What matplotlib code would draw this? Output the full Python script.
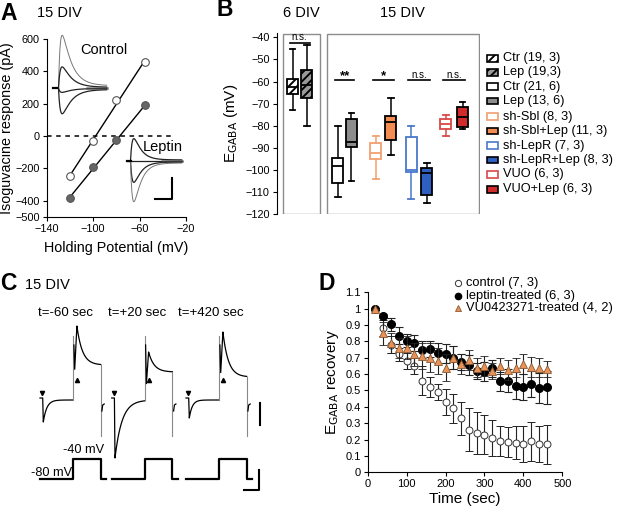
import numpy as np
import matplotlib
matplotlib.use("Agg")
import matplotlib.pyplot as plt
from matplotlib.patches import Rectangle

plt.rcParams['font.family'] = ['Liberation Sans', 'DejaVu Sans']
plt.rcParams['hatch.linewidth'] = 1.4

W, H = 617, 508

# ---------------- data ----------------
# A: I-V relation
hold_mv = [-120, -100, -80, -55]
iv_control = [-250, -30, 220, 460]
iv_leptin = [-385, -195, -25, 190]
# inset trace amplitudes (px above baseline)
amp_control = [52, 21, -4, -25]
amp_leptin = [22, 0, -21, -40]

# B: box stats
box_labels = ['Ctr (19, 3)', 'Lep (19,3)', 'Ctr (21, 6)', 'Lep (13, 6)',
              'sh-Sbl (8, 3)', 'sh-Sbl+Lep (11, 3)', 'sh-LepR (7, 3)',
              'sh-LepR+Lep (8, 3)', 'VUO (6, 3)', 'VUO+Lep (6, 3)']
whislo = [-73, -80, -112, -105, -104, -93, -113, -114.7, -84.5, -81.6]
q1 = [-65.5, -67.5, -106, -89.5, -95, -86.5, -101, -111.3, -81.4, -80.4]
med = [-62.5, -61.5, -98, -87.5, -92.5, -78.5, -100, -101.5, -79.3, -75.9]
q3 = [-59, -55, -94.5, -77, -88, -75.5, -84.9, -99, -76.9, -71.4]
whishi = [-45.5, -43.5, -80, -74, -84.5, -67.5, -80.1, -96.7, -75.1, -69.1]
sig_labels = ['n.s.', '**', '*', 'n.s.', 'n.s.']

# C: example traces (px amplitudes)
c_titles = ['t=-60 sec', 't=+20 sec', 't=+420 sec']
c_dip = [22, 58, 18]
c_peak = [74, 48, 68]
c_plateau = [35, 28, 23]

# D: recovery time course
t_sec = list(range(20, 461, 20))
rec_control = [1.0, 0.88, 0.78, 0.72, 0.68, 0.65, 0.56, 0.52, 0.49, 0.43, 0.39, 0.33,
               0.26, 0.24, 0.23, 0.21, 0.19, 0.185, 0.18, 0.17, 0.19, 0.17, 0.17]
err_control = [0, 0.05, 0.05, 0.04, 0.05, 0.05, 0.09, 0.06, 0.05, 0.08, 0.09, 0.1,
               0.13, 0.13, 0.12, 0.11, 0.09, 0.09, 0.1, 0.11, 0.12, 0.11, 0.12]
rec_leptin = [1.0, 0.955, 0.905, 0.835, 0.805, 0.79, 0.75, 0.755, 0.73, 0.725, 0.70, 0.675,
              0.655, 0.62, 0.615, 0.635, 0.555, 0.56, 0.53, 0.52, 0.54, 0.515, 0.52]
err_leptin = [0, 0.01, 0.04, 0.05, 0.04, 0.05, 0.05, 0.05, 0.06, 0.06, 0.07, 0.05,
              0.06, 0.05, 0.06, 0.05, 0.06, 0.07, 0.08, 0.08, 0.08, 0.09, 0.1]
rec_vu = [1.0, 0.85, 0.79, 0.76, 0.76, 0.72, 0.71, 0.70, 0.68, 0.64, 0.70, 0.66,
          0.685, 0.64, 0.65, 0.62, 0.65, 0.625, 0.64, 0.66, 0.645, 0.64, 0.63]
err_vu = [0, 0.07, 0.06, 0.06, 0.07, 0.07, 0.08, 0.09, 0.08, 0.08, 0.07, 0.06,
          0.06, 0.06, 0.06, 0.05, 0.05, 0.06, 0.06, 0.06, 0.06, 0.06, 0.05]
d_labels = ['control (7, 3)', 'leptin-treated (6, 3)', 'VU0423271-treated (4, 2)']


def rect(x0, y0, x1, y1):
    # pixel box (top-left origin) -> figure fractions
    return [x0 / W, 1 - y1 / H, (x1 - x0) / W, (y1 - y0) / H]


fig = plt.figure(figsize=(W / 100, H / 100), dpi=100)

# ---------------- A ----------------
axA = fig.add_axes(rect(46.7, 39, 186, 216.7))
axA.set_xlim(-140, -20)
axA.set_ylim(-500, 600)
axA.hlines(0, -140, -32, colors='k', linestyles=(0, (3, 3)), lw=1.1)
for yv, fc in [(iv_control, 'white'), (iv_leptin, '#666666')]:
    p = np.polyfit(hold_mv, yv, 1)
    xs = np.array([hold_mv[0], hold_mv[-1]])
    axA.plot(xs, np.polyval(p, xs), color='k', lw=1)
    axA.plot(hold_mv, yv, 'o', ms=5.5, mfc=fc, mec='#555555', mew=0.8, zorder=3)
axA.set_xticks([-140, -100, -60, -20])
axA.set_yticks([600, 400, 200, 0, -200, -400, -500])
axA.tick_params(labelsize=7.8, length=3, width=0.8, pad=2)
for s in ['top', 'right']:
    axA.spines[s].set_visible(False)
axA.set_xlabel('Holding Potential (mV)', fontsize=10.4, labelpad=5)
axA.set_ylabel('Isoguvacine response (pA)', fontsize=10.4, labelpad=1)

# ---------------- B ----------------
axB = fig.add_axes(rect(276.7, 33.3, 480, 214.3))
axB.set_xlim(0, 14.5)
axB.set_ylim(-120, -38.2)
pos = [1.14, 2.14, 4.36, 5.33, 7.07, 8.14, 9.6, 10.7, 12.06, 13.26]
faces = ['white', '#999999', 'white', '#8c8c8c', 'white', '#f28c50',
         'white', '#2f5fc0', 'white', '#d02c2c']
edges = ['k', 'k', 'k', 'k', '#f0a070', 'k', '#4a78cc', 'k', '#d84848', 'k']
hatches = ['////', '////', None, None, None, None, None, None, None, None]
stats = [dict(whislo=a, q1=b, med=c, q3=d, whishi=e)
         for a, b, c, d, e in zip(whislo, q1, med, q3, whishi)]
bp = axB.bxp(stats, positions=pos, widths=0.8, showfliers=False, patch_artist=True,
             manage_ticks=False)
for i in range(len(stats)):
    bp['boxes'][i].set(facecolor=faces[i], edgecolor=edges[i], lw=1.3,
                       hatch=hatches[i])
    bp['medians'][i].set(color=edges[i], lw=1.3)
    for k in (2 * i, 2 * i + 1):
        bp['whiskers'][k].set(color=edges[i], lw=1.1)
        bp['caps'][k].set(color=edges[i], lw=1.3, xdata=[pos[i] - 0.2, pos[i] + 0.2])
axB.add_patch(Rectangle((0.45, -120), 2.64, 81.6, fill=False, ec='#8c8c8c', lw=1))
axB.add_patch(Rectangle((3.57, -120), 10.83, 81.6, fill=False, ec='#8c8c8c', lw=1))
sig_y = [-42.4, -59.4, -59.4, -59.4, -59.4]
for j, lab in enumerate(sig_labels):
    xa, xb = pos[2 * j], pos[2 * j + 1]
    axB.plot([xa - 0.2, xb + 0.2], [sig_y[j], sig_y[j]], color='k', lw=1.2)
    if lab == 'n.s.':
        axB.text((xa + xb) / 2, sig_y[j] + 0.3, lab, ha='center', va='bottom', fontsize=7)
    else:
        axB.text((xa + xb) / 2, sig_y[j] - 0.8, lab, ha='center', va='bottom', fontsize=9.5,
                 fontweight='bold')
axB.set_yticks(range(-120, -39, 10))
axB.set_xticks([])
axB.tick_params(labelsize=7.8, length=3, width=0.8, pad=2)
for s in ['top', 'right', 'bottom']:
    axB.spines[s].set_visible(False)
axB.set_ylabel(r'E$_{\mathrm{GABA}}$ (mV)', fontsize=11, labelpad=4)

# ---------------- D ----------------
mk_ctrl = dict(fmt='o', ms=5, mfc='white', mec='#333333', mew=0.7)
mk_lep = dict(fmt='o', ms=5.5, mfc='k', mec='k')
mk_vu = dict(fmt='^', ms=5.5, mfc='#e8925a', mec='#8a5a30', mew=0.6)
axD = fig.add_axes(rect(367.7, 292.3, 562.3, 472.3))
for vals, errs, mk, z in [(rec_control, err_control, mk_ctrl, 2),
                          (rec_leptin, err_leptin, mk_lep, 3),
                          (rec_vu, err_vu, mk_vu, 4)]:
    axD.errorbar(t_sec, vals, yerr=errs, ecolor='#222222', elinewidth=0.8, capsize=3,
                 capthick=0.8, zorder=z, **mk)
axD.set_xlim(0, 500)
axD.set_ylim(0, 1.1)
axD.set_xticks(range(0, 501, 100))
axD.set_yticks(np.arange(0, 1.11, 0.1))
axD.set_yticklabels(['0', '0.1', '0.2', '0.3', '0.4', '0.5', '0.6', '0.7', '0.8', '0.9',
                     '1', '1.1'])
axD.tick_params(labelsize=8, length=3, width=0.8, pad=2)
for s in ['top', 'right']:
    axD.spines[s].set_visible(False)
axD.set_xlabel('Time (sec)', fontsize=11, labelpad=2)
axD.set_ylabel(r'E$_{\mathrm{GABA}}$ recovery', fontsize=11, labelpad=3)

# ---------------- overlay: labels, traces, legends ----------------
ov = fig.add_axes([0, 0, 1, 1], zorder=10)
ov.set_xlim(0, W)
ov.set_ylim(H, 0)
ov.axis('off')
ov.patch.set_alpha(0)

for txt, x, y in [('A', 0, 13), ('B', 216, 10), ('C', 0, 284), ('D', 318, 284)]:
    ov.text(x, y, txt, fontsize=16.5, fontweight='bold', va='center', ha='left')
for txt, x, y in [('15 DIV', 37, 13), ('6 DIV', 283, 13), ('15 DIV', 380, 13), ('15 DIV', 25, 285)]:
    ov.text(x, y, txt, fontsize=10.5, va='center', ha='left')


def psc(x0, onset, x1, base, amp, tr=1.8, td=9.0):
    x = np.linspace(onset, x1, 150)
    t = x - onset
    k = np.exp(-t / td) - np.exp(-t / tr)
    k = k / k.max()
    y = base - amp * (k + 0.05 * np.clip(t / 10, 0, 1))
    return np.r_[x0, onset, x], np.r_[base, base, y]


for amps, x0, onset, x1, base, td in [(amp_control, 52.7, 58.5, 106.7, 88.3, 9.0),
                                     (amp_leptin, 126.7, 130.5, 181.7, 161, 7.0)]:
    for a in amps:
        xx, yy = psc(x0, onset, x1, base, a, td=td)
        big = abs(a) > 30
        ov.plot(xx, yy, color='#777777' if big else '#222222', lw=0.7 if big else 0.9)
    ov.plot([x0, x0 + 4], [base, base], color='k', lw=1.6)
    ov.plot([x1 - 20, x1], [base - 0.5, base - 0.5], color='#444444', lw=1.8, alpha=0.7)
ov.text(80, 50, 'Control', fontsize=10.5, va='center', ha='left')
ov.text(143, 147, 'Leptin', fontsize=10.5, va='center', ha='left')
ov.plot([155, 172.3, 172.3], [199, 199, 177.7], color='k', lw=1.5)

# C traces
starts = [40, 111.7, 186]
for i in range(3):
    x0 = starts[i]
    xd, xs, xe = x0 + 3.3, x0 + 33.3, x0 + 60.7
    tau1 = [3.5, 7.0, 3.0][i]
    ov.text(x0 + 25, 313.3, c_titles[i], fontsize=9.5, ha='center', va='center')
    xa = np.linspace(xd, xs, 80)
    ya = 400 + c_dip[i] * np.exp(-(xa - xd) / tau1)
    ov.plot(np.r_[x0, xd - 0.6, xa], np.r_[398, 398, ya], color='k', lw=0.9)
    ov.plot([xs, xs], [400, 336], color='#888888', lw=0.8)
    xpk = xs + 3.6
    xb = np.linspace(xpk, xe, 80)
    yb = 400 - c_plateau[i] - (c_peak[i] - c_plateau[i]) * np.exp(-(xb - xpk) / 5.5)
    ov.plot(np.r_[xs + 0.6, xs + 1.4, xb], np.r_[345, 400 - c_peak[i] * 0.55 + 10, yb],
            color='k', lw=0.9)
    ov.plot([xe, xe], [400 - c_plateau[i], 436], color='#888888', lw=0.8)
    ov.plot([xe + 1.2, xe + 2, xe + 3.5], [411, 405, 404], color='k', lw=0.9)
    ov.plot(xd - 1, 393, marker='v', ms=3, color='k')
    ov.plot(xpk, 380, marker='^', ms=3, color='k')
    # voltage step
    ov.plot([x0, xs, xs, xe, xe, xe + 5.5], [479.3, 479.3, 459.3, 459.3, 479.3, 479.3],
            color='k', lw=1.6)
ov.plot([260, 260], [403, 425], color='k', lw=1.5)
ov.plot([244.3, 259.3, 259.3], [490, 490, 470], color='k', lw=1.5)
ov.text(84, 450, '-40 mV', fontsize=9.2, ha='center', va='center')
ov.text(72, 473, '-80 mV', fontsize=9.2, ha='right', va='center')

# B legend
leg_rows = [58.3, 72.3, 86.7, 101, 116.7, 131, 145.7, 160, 174.3, 189.3]
for i, lab in enumerate(box_labels):
    y = leg_rows[i]
    ov.add_patch(Rectangle((487, y - 3.3), 10.5, 6.6, fc=faces[i], ec=edges[i], lw=1.2,
                           hatch=hatches[i]))
    ov.text(503, y, lab, fontsize=9.2, va='center', ha='left')

# D legend
for j, (mk, lab) in enumerate(zip([mk_ctrl, mk_lep, mk_vu], d_labels)):
    y = 283.3 + 12.2 * j
    style = {k: v for k, v in mk.items() if k not in ('fmt', 'ms')}
    ov.plot(457.5, y, marker=mk['fmt'], ls='', ms=4.5, **style)
    ov.text(465.5, y, lab, fontsize=9.3, va='center', ha='left')

fig.savefig('out.png', dpi=100)
